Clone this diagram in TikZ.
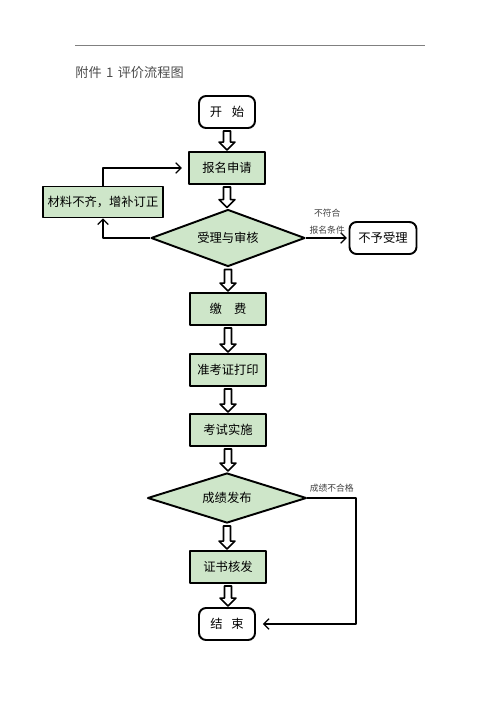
\documentclass[tikz,border=0pt]{standalone}
\usepackage{fontspec}
\setmainfont{Noto Sans CJK SC}
\usetikzlibrary{shapes,calc,arrows.meta}
\definecolor{boxgreen}{RGB}{206,230,201}
\newcommand \hollowdown[2]
{
\coordinate (t) at (#1.south|-#2.north);
\draw[line width=0.9pt,fill=white] ($(#1.south)+(-3.5,2)$) -- ($(t)+(-3.5,-9)$) -- ($(t)+(-8,-9)$) -- ($(t)+(0,-1)$) -- ($(t)+(8,-9)$) -- ($(t)+(3.5,-9)$) -- ($(t)+(3.5,-9)$) -- ($(#1.south)+(3.5,2)$) -- cycle;
}

\begin{document}
\begin{tikzpicture}[x=0.02cm, y=-0.02cm, line join=round,
box/.style={draw, line width=1.1pt, fill=boxgreen, minimum width=1.52cm, minimum height=0.64cm, inner sep=1pt, font=\fontsize{7}{9}\selectfont},
endbox/.style={draw, line width=1.1pt, rounded corners=4pt, fill=white, minimum width=1.12cm, minimum height=0.64cm, inner sep=1pt, font=\fontsize{7}{9}\selectfont},
check/.style={diamond, draw, line width=1.1pt, fill=boxgreen, shape aspect=2.7, inner sep=0pt, font=\fontsize{7}{9}\selectfont},
note/.style={font=\fontsize{5}{9.5}\selectfont, text=black!75, inner sep=1pt},
line/.style={line width=0.7pt, -{Straight Barb[length=3pt,width=6pt]}}]
\useasboundingbox (0,0) rectangle (500,707);
\draw[gray, line width=0.5pt] (75,45) -- (425,45);
\node[anchor=west, inner sep=0pt, text=black!70, font=\fontsize{7.5}{9}\selectfont] (title) at (75,73) {附件\,\,1\,\,评价流程图};
% main column
\node[endbox] (start) at (227,112) {开\hspace{0.8em}始};
\node[box] (apply) at (227,168) {报名申请};
\node[check, minimum width=3.08cm, minimum height=1.14cm] (review) at (228,238) {受理与审核};
\node[box, minimum width=2.4cm, minimum height=0.62cm] (fix) at (103,202) {材料不齐，增补订正};
\node[endbox, minimum width=1.34cm] (reject) at (383,238) {不予受理};
\node[box] (pay) at (228,309) {缴\hspace{1em}费};
\node[box] (print) at (228,370) {准考证打印};
\node[box] (exam) at (228,430) {考试实施};
\node[check, minimum width=3.18cm, minimum height=1.0cm] (result) at (227,498) {成绩发布};
\node[box] (cert) at (228,567) {证书核发};
\node[endbox] (finish) at (227,624) {结\hspace{0.7em}束};
\hollowdown{start}{apply}
\hollowdown{apply}{review}
\hollowdown{review}{pay}
\hollowdown{pay}{print}
\hollowdown{print}{exam}
\hollowdown{exam}{result}
\hollowdown{result}{cert}
\hollowdown{cert}{finish}
% side branches
\draw[line] (review.west) -| (fix.south);
\draw[line, shorten >=3.5pt] (fix.north) |- (apply.west);
\draw[line, shorten >=1pt] (review.east) -- (reject.west) node[midway, above, note, align=center, yshift=1pt] {不符合\\报名条件};
\coordinate (turn) at (356,498);
\draw[line, shorten >=4pt] (result.east) -- (turn) node[midway, above, note, yshift=2pt] {成绩不合格} |- (finish.east);
\end{tikzpicture}
\end{document}
